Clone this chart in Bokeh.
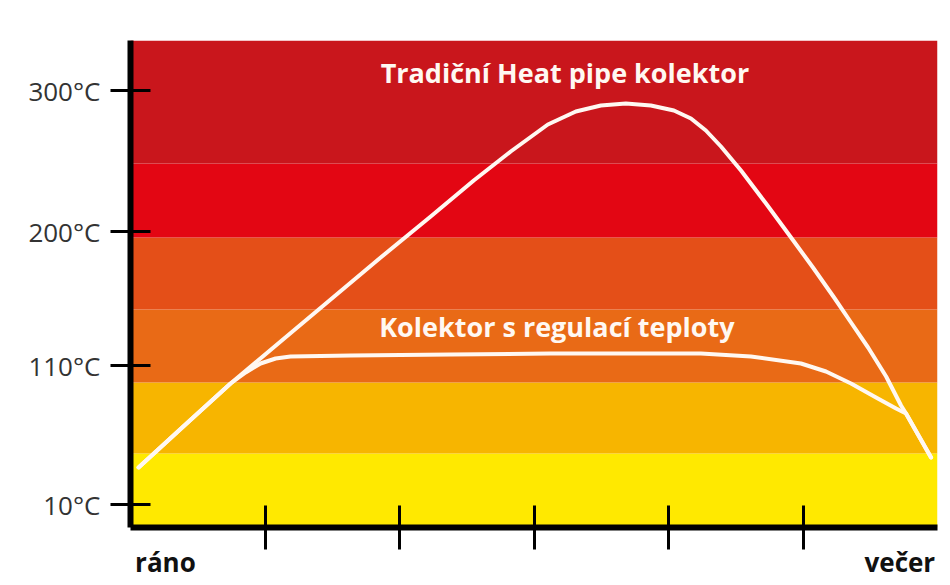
from bokeh.plotting import figure
from bokeh.models import FixedTicker, Label, Range1d, LinearAxis
from bokeh.embed import file_html
from bokeh.resources import INLINE

# ---- data (x: time units from morning=0 to evening=6; y: position on the temperature scale) ----
band_bottoms = [0, 74, 145, 218, 290, 364]
band_tops = [74, 145, 218, 290, 364, 487]
band_colors = ["#FFE900", "#F7B500", "#E96A16", "#E44F18", "#E30613", "#C9161C"]

y_tick_pos = [23, 162, 296, 437]
y_tick_labels = ["10°C", "110°C", "200°C", "300°C"]
x_tick_pos = [1, 2, 3, 4, 5]

x_label_pos = [0.26, 5.72]
x_label_text = ["ráno", "večer"]

trad_x = [0.060, 0.409, 0.744, 1.116, 1.488, 1.860, 2.232, 2.552, 2.827, 3.103, 3.311, 3.497,
          3.683, 3.869, 4.040, 4.167, 4.278, 4.390, 4.539, 4.725, 4.911, 5.074, 5.231, 5.357,
          5.484, 5.618, 5.729, 5.766, 5.952]
trad_y = [60, 103, 144, 186, 228, 270, 311, 347, 376, 403, 416, 422,
          424, 422, 417, 409, 397, 381, 357, 324, 290, 260, 230, 205,
          180, 151, 122, 114, 70]

reg_x = [0.060, 0.409, 0.744, 0.856, 0.967, 1.079, 1.190, 1.637, 2.381, 3.125, 3.869, 4.241,
         4.613, 4.985, 5.171, 5.357, 5.543, 5.692, 5.766, 5.952]
reg_y = [60, 103, 144, 155, 164, 169, 171, 172, 173, 174, 174, 174,
         171, 164, 156, 144, 130, 119, 114, 70]

label_trad = "Tradiční Heat pipe kolektor"
label_reg = "Kolektor s regulací teploty"

p = figure(width=948, height=583, output_backend="svg", toolbar_location=None,
           x_range=Range1d(0, 6), y_range=Range1d(0, 487),
           min_border_left=130, min_border_right=11, min_border_top=40, min_border_bottom=56)
p.outline_line_color = None
p.background_fill_color = "white"
p.border_fill_color = "white"
p.xgrid.visible = False
p.ygrid.visible = False

p.quad(left=0, right=6, bottom=band_bottoms, top=band_tops,
       fill_color=band_colors, line_color=None)

line_col = "#FFF8F2"
p.line(trad_x, trad_y, line_color=line_col, line_width=4, line_join="round", line_cap="round")
p.line(reg_x, reg_y, line_color=line_col, line_width=4, line_join="round", line_cap="round")

# y axis
ya = p.yaxis[0]
ya.ticker = FixedTicker(ticks=y_tick_pos)
ya.major_label_overrides = {t: l for t, l in zip(y_tick_pos, y_tick_labels)}
ya.axis_line_width = 6
ya.axis_line_color = "black"
ya.major_tick_in = 20
ya.major_tick_out = 20
ya.major_tick_line_width = 3
ya.major_tick_line_color = "black"
ya.minor_tick_line_color = None
ya.major_label_text_font = "Open Sans"
ya.major_label_text_font_size = "26px"
ya.major_label_text_color = "#333333"
ya.major_label_standoff = 10

# x axis with tick marks only
xa = p.xaxis[0]
xa.ticker = FixedTicker(ticks=x_tick_pos)
xa.major_label_overrides = {t: "" for t in x_tick_pos}
xa.major_label_text_font_size = "0px"
xa.major_label_standoff = 0
xa.axis_line_width = 6
xa.axis_line_color = "black"
xa.major_tick_in = 22
xa.major_tick_out = 22
xa.major_tick_line_width = 3
xa.major_tick_line_color = "black"
xa.minor_tick_line_color = None

# x axis carrying the "morning" / "evening" labels
la = LinearAxis(ticker=FixedTicker(ticks=x_label_pos),
                major_label_overrides={t: l for t, l in zip(x_label_pos, x_label_text)},
                axis_line_color=None, major_tick_line_color=None, minor_tick_line_color=None,
                major_tick_in=0, major_tick_out=0, major_label_standoff=-6,
                major_label_text_font="Open Sans", major_label_text_font_style="bold",
                major_label_text_font_size="26px", major_label_text_color="#111111")
p.add_layout(la, "below")

for txt, x, y in [(label_trad, 3.23, 455), (label_reg, 3.17, 201)]:
    p.add_layout(Label(x=x, y=y, text=txt, text_align="center", text_baseline="middle",
                       text_font="Open Sans", text_font_style="bold", text_font_size="27px",
                       text_color=line_col))

open("out.html", "w").write(file_html(p, INLINE))
